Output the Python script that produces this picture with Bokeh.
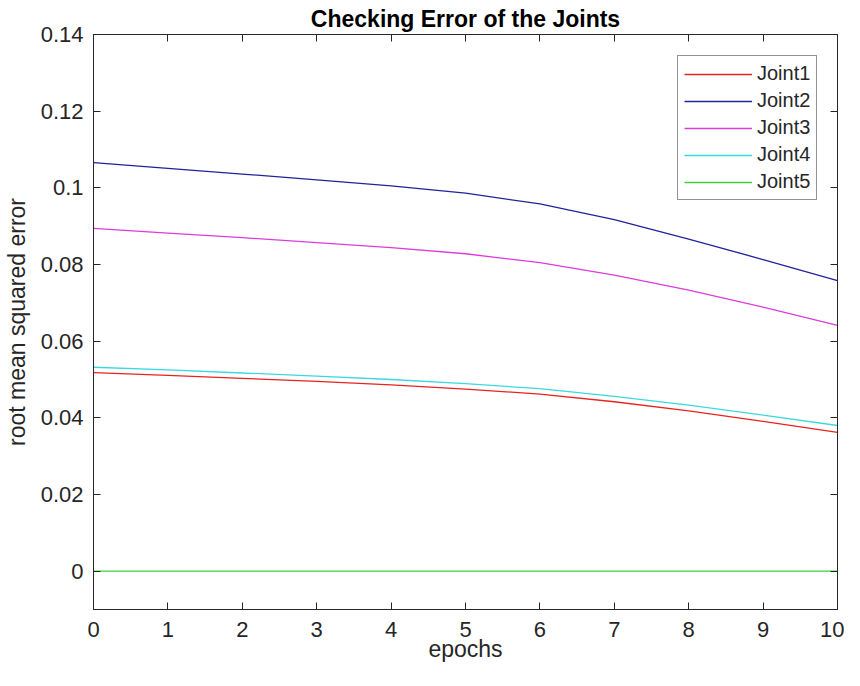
from bokeh.plotting import figure
from bokeh.models import (LinearAxis, FixedTicker, Range1d, Legend, LegendItem, Title,
                          CustomJSTickFormatter)
from bokeh.embed import file_html
from bokeh.resources import INLINE

# ---- data ----
epochs = [0, 1, 2, 3, 4, 5, 6, 7, 8, 9, 10]
joint1 = [0.0518, 0.0511, 0.0503, 0.0495, 0.0486, 0.0475, 0.0462, 0.0442, 0.0418, 0.0391, 0.0362]
joint2 = [0.1066, 0.1051, 0.1036, 0.1021, 0.1005, 0.0986, 0.0958, 0.0917, 0.0866, 0.0813, 0.0758]
joint3 = [0.0894, 0.0882, 0.0870, 0.0857, 0.0844, 0.0828, 0.0805, 0.0772, 0.0733, 0.0689, 0.0641]
joint4 = [0.0532, 0.0525, 0.0517, 0.0509, 0.0500, 0.0489, 0.0476, 0.0456, 0.0433, 0.0407, 0.0380]
joint5 = [0.0, 0.0, 0.0, 0.0, 0.0, 0.0, 0.0, 0.0, 0.0, 0.0, 0.0]
series_names = ["Joint1", "Joint2", "Joint3", "Joint4", "Joint5"]
series_colors = ["#e8231f", "#22229a", "#dc3cdc", "#3cd8e0", "#3cd03c"]

x_ticks = [0, 1, 2, 3, 4, 5, 6, 7, 8, 9, 10]
y_ticks = [0.0, 0.02, 0.04, 0.06, 0.08, 0.1, 0.12, 0.14]
y_tick_labels = ["0", "0.02", "0.04", "0.06", "0.08", "0.1", "0.12", "0.14"]

FONT = "Liberation Sans"
TXT = "#262626"

p = figure(width=844, height=670, output_backend="svg", toolbar_location=None,
           x_range=Range1d(0, 10), y_range=Range1d(-0.01, 0.14),
           min_border_left=89, min_border_right=7, min_border_top=34, min_border_bottom=61,
           x_axis_label="epochs", y_axis_label="root mean squared error")
p.title = Title(text="Checking Error of the Joints", align="center",
                text_font=FONT, text_font_size="23px", text_font_style="bold",
                text_color="black", standoff=5, offset=0)
p.grid.visible = False
p.outline_line_color = TXT
p.outline_line_width = 1
p.background_fill_color = "white"
p.border_fill_color = "white"

def style_axis(ax, ticks, show_labels=True):
    ax.ticker = FixedTicker(ticks=ticks)
    ax.major_tick_in = 7
    ax.major_tick_out = 0
    ax.minor_tick_in = 0
    ax.minor_tick_out = 0
    ax.axis_line_color = TXT
    ax.major_tick_line_color = TXT
    ax.major_label_text_font = FONT
    ax.major_label_text_color = TXT
    ax.major_label_text_font_size = "22px"
    ax.axis_label_text_font = FONT
    ax.axis_label_text_font_style = "normal"
    ax.axis_label_text_color = TXT
    ax.axis_label_text_font_size = "23px"
    if not show_labels:
        ax.formatter = CustomJSTickFormatter(code="return ''")
        ax.major_label_standoff = 0

style_axis(p.xaxis[0], x_ticks)
style_axis(p.yaxis[0], y_ticks)
p.xaxis[0].major_label_standoff = 12
p.xaxis[0].axis_label_standoff = -4
p.yaxis[0].major_label_standoff = 10
p.yaxis[0].axis_label_standoff = 8
p.yaxis[0].major_label_overrides = {t: l for t, l in zip(y_ticks, y_tick_labels)}

top_ax = LinearAxis()
style_axis(top_ax, x_ticks, show_labels=False)
p.add_layout(top_ax, "above")
right_ax = LinearAxis()
style_axis(right_ax, y_ticks, show_labels=False)
p.add_layout(right_ax, "right")

all_series = [joint1, joint2, joint3, joint4, joint5]
items = []
for name, ys, col in zip(series_names, all_series, series_colors):
    r = p.line(epochs, ys, line_color=col, line_width=1.3)
    items.append(LegendItem(label=name, renderers=[r]))

legend = Legend(items=items, location=(584, 409),
                border_line_color=TXT, border_line_width=1,
                background_fill_color="white", background_fill_alpha=1,
                label_text_font=FONT, label_text_font_size="20px", label_text_color=TXT,
                glyph_width=68, glyph_height=20, label_height=20,
                label_standoff=5, spacing=4, padding=6, margin=0)
p.add_layout(legend, "center")

open("out.html", "w").write(file_html(p, INLINE))
